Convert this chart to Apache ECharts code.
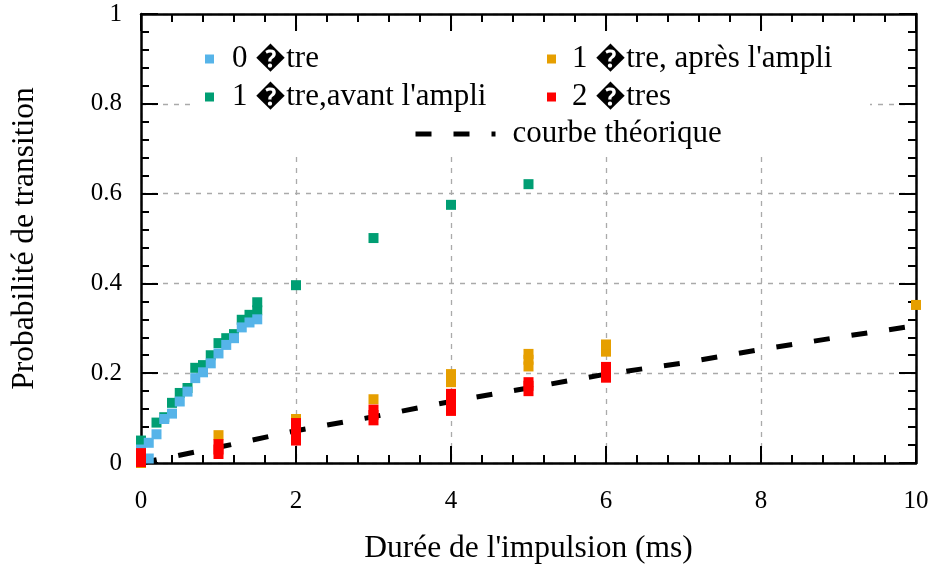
<!DOCTYPE html>
<html>
<head>
<meta charset="utf-8">
<script src="https://cdn.jsdelivr.net/npm/echarts@6/dist/echarts.min.js"></script>
<style>
html,body{margin:0;padding:0;background:#fff;}
#chart{width:929px;height:567px;}
</style>
</head>
<body>
<div id="chart"></div>
<script>
// ---- data ----
var seriesNames = ["0 \uFFFDtre", "1 \uFFFDtre, apr\u00e8s l'ampli", "1 \uFFFDtre,avant l'ampli", "2 \uFFFDtres", "courbe th\u00e9orique"];

var zeroEtre = [[0,0.03],[0.1,0.01],[0.1,0.045],[0.2,0.064],[0.3,0.098],[0.4,0.11],[0.5,0.137],[0.6,0.159],[0.7,0.189],[0.8,0.202],[0.9,0.222],[1.0,0.244],[1.1,0.263],[1.2,0.278],[1.3,0.302],[1.4,0.313],[1.5,0.32]];

var unEtreAvant = [[0,0.05],[0.2,0.09],[0.3,0.102],[0.4,0.134],[0.5,0.156],[0.6,0.167],[0.7,0.212],[0.8,0.218],[0.9,0.24],[1.0,0.267],[1.1,0.278],[1.2,0.287],[1.3,0.319],[1.4,0.33],[1.5,0.34],[1.5,0.358],[2,0.396],[3,0.501],[4,0.575],[5,0.621]];

var unEtreApres = [[0,0.0],[1,0.062],[2,0.098],[3,0.142],[4,0.18],[4,0.198],[5,0.215],[5,0.23],[5,0.243],[6,0.248],[6,0.264],[10,0.352]];

var deuxEtres = [[0,0.002],[0,0.012],[0,0.022],[1,0.02],[1,0.03],[1,0.042],[2,0.05],[2,0.065],[2,0.078],[2,0.089],[3,0.095],[3,0.107],[3,0.119],[4,0.116],[4,0.13],[4,0.143],[4,0.154],[5,0.16],[5,0.172],[5,0.18],[6,0.19],[6,0.2],[6,0.214]];

var theoX = [0,1,2,3,4,5,6,7,8,9,10];
var theoY = [0,0.035,0.072,0.103,0.137,0.167,0.198,0.223,0.253,0.28,0.306];

var xTickLabels = ["0","2","4","6","8","10"];
var yTickLabels = ["0","0.2","0.4","0.6","0.8","1"];

// ---- chart ----
var FONT = "Liberation Serif";
var theo = theoX.map(function(x,i){return [x, theoY[i]];});
var theoLine = {color:'#000', width:5, type:[16,22], cap:'butt'};

var chart = echarts.init(document.getElementById('chart'), null, {renderer:'canvas'});

function xAxisDef(pos, show){
  return {
    type:'value', position:pos, min:0, max:10, interval:2,
    axisLine:{show:true, onZero:false, lineStyle:{color:'#000', width:2.5}},
    axisTick:{show:true, inside:true, length:17, lineStyle:{color:'#000', width:2}},
    minorTick:{show:true, splitNumber:5, length:8, lineStyle:{color:'#000', width:2}},
    axisLabel:{show:show, margin:26, color:'#000', fontFamily:FONT, fontSize:25,
      formatter:function(v){ var i=Math.round(v/2); return xTickLabels[i]!==undefined?xTickLabels[i]:''; }},
    splitLine:{show:show, lineStyle:{color:'#aaaaaa', width:1.3, type:[5,6]}},
    name: show ? "Dur\u00e9e de l'impulsion (ms)" : '',
    nameLocation:'middle', nameGap:70,
    nameTextStyle:{color:'#000', fontFamily:FONT, fontSize:31.5}
  };
}
function yAxisDef(pos, show){
  return {
    type:'value', position:pos, min:0, max:1, interval:0.2,
    axisLine:{show:true, onZero:false, lineStyle:{color:'#000', width:2.5}},
    axisTick:{show:true, inside:true, length:17, lineStyle:{color:'#000', width:2}},
    minorTick:{show:true, splitNumber:5, length:8, lineStyle:{color:'#000', width:2}},
    axisLabel:{show:show, margin:19, color:'#000', fontFamily:FONT, fontSize:25,
      formatter:function(v){ var i=Math.round(v*5); return yTickLabels[i]!==undefined?yTickLabels[i]:''; }},
    splitLine:{show:show, lineStyle:{color:'#aaaaaa', width:1.3, type:[5,6]}},
    name: show ? "Probabilit\u00e9 de transition" : '',
    nameLocation:'middle', nameGap:100, nameRotate:90,
    nameTextStyle:{color:'#000', fontFamily:FONT, fontSize:31.5}
  };
}

function scatter(name, data, color){
  return {
    type:'scatter', name:name, data:data, symbol:'rect', symbolSize:10,
    itemStyle:{color:color, opacity:1}, emphasis:{disabled:true}, z:3
  };
}

function legendText(padLeft){
  return {color:'#000', fontFamily:FONT, fontSize:31, lineHeight:34, padding:[0,0,0,padLeft]};
}

var option = {
  animation:false,
  backgroundColor:'#fff',
  grid:{left:141, right:13, top:14, bottom:104, containLabel:false, outerBoundsMode:'none'},
  xAxis:[xAxisDef('bottom', true), xAxisDef('top', false)],
  yAxis:[yAxisDef('left', true), yAxisDef('right', false)],
  graphic:[{
    type:'rect', z:1, silent:true,
    shape:{x:192, y:35, width:678, height:117},
    style:{fill:'#fff'}
  }],
  legend:[
    {orient:'vertical', left:205, top:42, itemWidth:9, itemHeight:9, itemGap:4, padding:0,
     icon:'rect', textStyle:legendText(13), selectedMode:false,
     data:[seriesNames[0], seriesNames[2]]},
    {orient:'vertical', left:547, top:42, itemWidth:9, itemHeight:9, itemGap:4, padding:0,
     icon:'rect', textStyle:legendText(11), selectedMode:false,
     data:[seriesNames[1], seriesNames[3]]},
    {orient:'vertical', left:413, top:117, itemWidth:80, itemHeight:12, itemGap:4, padding:0,
     textStyle:legendText(12), selectedMode:false,
     itemStyle:{opacity:0, borderWidth:0},
     lineStyle:theoLine,
     data:[{name:seriesNames[4], itemStyle:{opacity:0, borderWidth:0}, lineStyle:theoLine}]}
  ],
  series:[
    {type:'line', name:seriesNames[4], data:theo, showSymbol:false, symbol:'none',
     lineStyle:theoLine, itemStyle:{color:'#000'},
     z:2, silent:true},
    scatter(seriesNames[2], unEtreAvant, '#009E73'),
    scatter(seriesNames[0], zeroEtre, '#56B4E9'),
    scatter(seriesNames[1], unEtreApres, '#E69F00'),
    scatter(seriesNames[3], deuxEtres, '#FF0000')
  ]
};
chart.setOption(option);
</script>
</body>
</html>
